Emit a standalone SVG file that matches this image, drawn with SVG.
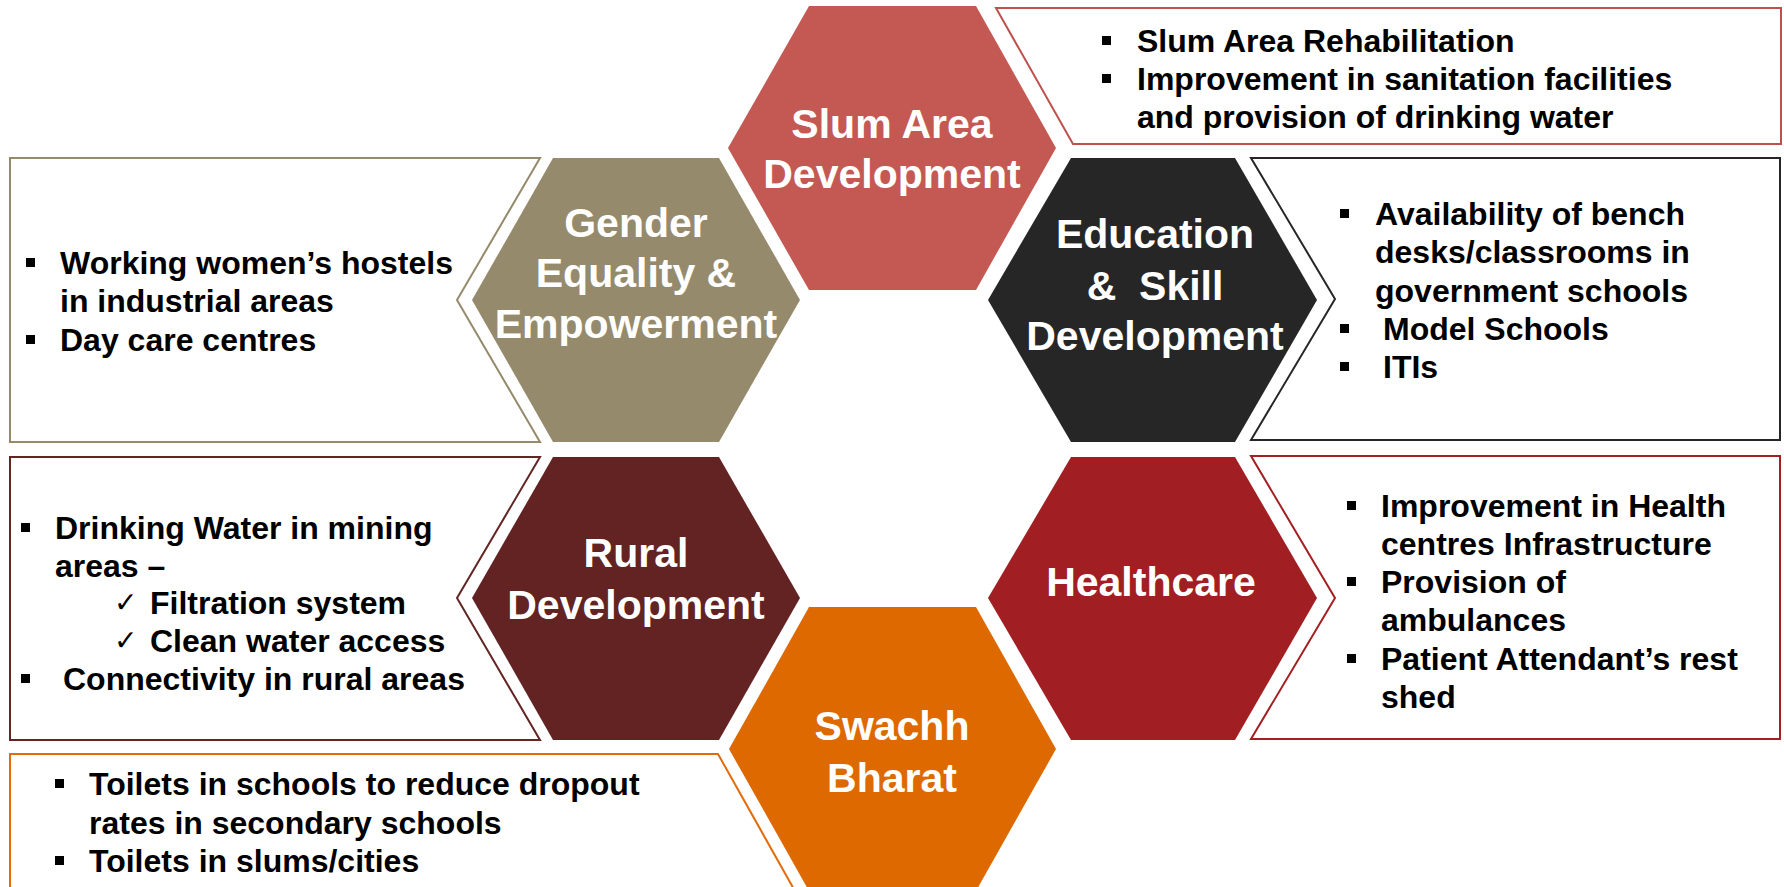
<svg xmlns="http://www.w3.org/2000/svg" width="1784" height="887" viewBox="0 0 1784 887">
<style>
.hexlabel{font-family:"Liberation Sans",Arial,sans-serif;font-weight:bold;font-size:41px;fill:#ffffff;text-anchor:middle}
.item{font-family:"Liberation Sans",Arial,sans-serif;font-weight:bold;font-size:32px;fill:#000000}
.chk{font-family:"DejaVu Sans",sans-serif;font-size:28px;fill:#000000}
.box{fill:#ffffff;stroke-width:2}
.bullet{fill:#000000}
</style>
<rect width="1784" height="887" fill="#ffffff"/>
<g id="connectors"/>

<g id="slum">
<polygon points="809,6 976,6 1056,148 976,290 809,290 728,148" fill="#C45953"/>
<text class="hexlabel" x="892" y="138">Slum Area</text>
<text class="hexlabel" x="892" y="188">Development</text>
<polygon class="box" points="996,8 1781,8 1781,144 1073,144" stroke="#C0504D"/>
<rect class="bullet" x="1102" y="36" width="9" height="9"/>
<text class="item" x="1137" y="52">Slum Area Rehabilitation</text>
<rect class="bullet" x="1102" y="74" width="9" height="9"/>
<text class="item" x="1137" y="90">Improvement in sanitation facilities</text>
<text class="item" x="1137" y="128">and provision of drinking water</text>
</g>

<g id="gender">
<polygon points="553,158 719,158 800,300 719,442 553,442 472,300" fill="#968A6C"/>
<text class="hexlabel" x="636" y="237">Gender</text>
<text class="hexlabel" x="636" y="287">Equality &amp;</text>
<text class="hexlabel" x="636" y="338">Empowerment</text>
<polygon class="box" points="10,158 540,158 457,300 540,442 10,442" stroke="#968A6C"/>
<rect class="bullet" x="26" y="258" width="9" height="9"/>
<text class="item" x="60" y="274">Working women’s hostels</text>
<text class="item" x="60" y="312">in industrial areas</text>
<rect class="bullet" x="26" y="335" width="9" height="9"/>
<text class="item" x="60" y="351">Day care centres</text>
</g>

<g id="education">
<polygon points="1071,158 1235,158 1317,300 1235,442 1071,442 988,300" fill="#262626"/>
<text class="hexlabel" x="1155" y="248">Education</text>
<text class="hexlabel" x="1155" y="300" xml:space="preserve">&amp;  Skill</text>
<text class="hexlabel" x="1155" y="350">Development</text>
<polygon class="box" points="1251,158 1780,158 1780,440 1251,440 1335,299" stroke="#262626"/>
<rect class="bullet" x="1340" y="209" width="9" height="9"/>
<text class="item" x="1375" y="225">Availability of bench</text>
<text class="item" x="1375" y="263">desks/classrooms in</text>
<text class="item" x="1375" y="302">government schools</text>
<rect class="bullet" x="1340" y="324" width="9" height="9"/>
<text class="item" x="1383" y="340">Model Schools</text>
<rect class="bullet" x="1340" y="362" width="9" height="9"/>
<text class="item" x="1383" y="378">ITIs</text>
</g>

<g id="rural">
<polygon points="553,457 719,457 800,598 719,740 553,740 472,598" fill="#622322"/>
<text class="hexlabel" x="636" y="567">Rural</text>
<text class="hexlabel" x="636" y="619">Development</text>
<polygon class="box" points="10,457 540,457 457,598 540,740 10,740" stroke="#632523"/>
<rect class="bullet" x="21" y="523" width="9" height="9"/>
<text class="item" x="55" y="539">Drinking Water in mining</text>
<text class="item" x="55" y="577">areas –</text>
<text class="chk" x="114" y="612">✓</text>
<text class="item" x="150" y="614">Filtration system</text>
<text class="chk" x="114" y="650">✓</text>
<text class="item" x="150" y="652">Clean water access</text>
<rect class="bullet" x="21" y="674" width="9" height="9"/>
<text class="item" x="63" y="690">Connectivity in rural areas</text>
</g>

<g id="healthcare">
<polygon points="1071,457 1235,457 1317,598 1235,740 1071,740 988,598" fill="#A11F22"/>
<text class="hexlabel" x="1151" y="596">Healthcare</text>
<polygon class="box" points="1251,456 1780,456 1780,739 1251,739 1335,598" stroke="#A21F22"/>
<rect class="bullet" x="1347" y="501" width="9" height="9"/>
<text class="item" x="1381" y="517">Improvement in Health</text>
<text class="item" x="1381" y="555">centres Infrastructure</text>
<rect class="bullet" x="1347" y="577" width="9" height="9"/>
<text class="item" x="1381" y="593">Provision of</text>
<text class="item" x="1381" y="631">ambulances</text>
<rect class="bullet" x="1347" y="654" width="9" height="9"/>
<text class="item" x="1381" y="670">Patient Attendant’s rest</text>
<text class="item" x="1381" y="708">shed</text>
</g>

<g id="swachh">
<polygon points="809,607 976,607 1056,749 976,891 809,891 729,749" fill="#DD6900"/>
<text class="hexlabel" x="892" y="740">Swachh</text>
<text class="hexlabel" x="892" y="792">Bharat</text>
<polygon class="box" points="10,754 718,754 800,900 10,900" stroke="#E36C09"/>
<rect class="bullet" x="55" y="779" width="9" height="9"/>
<text class="item" x="89" y="795">Toilets in schools to reduce dropout</text>
<text class="item" x="89" y="834">rates in secondary schools</text>
<rect class="bullet" x="55" y="856" width="9" height="9"/>
<text class="item" x="89" y="872">Toilets in slums/cities</text>
</g>
</svg>
